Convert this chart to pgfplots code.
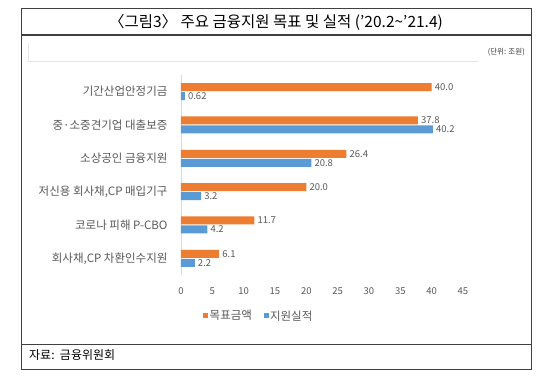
\documentclass[border=0pt]{standalone}
\usepackage{fontspec}
\setmainfont{Noto Sans CJK KR}
\usepackage{pgfplots}
\pgfplotsset{compat=1.18}
\definecolor{orangebar}{HTML}{ED7D31}
\definecolor{bluebar}{HTML}{5B9BD5}
\definecolor{txtgray}{HTML}{595959}
\definecolor{framegray}{HTML}{404040}
\begin{document}
\begin{tikzpicture}[x=1pt,y=1pt]
\useasboundingbox[fill=white] (0,0) rectangle (550,380);
% frame
\draw[framegray, line width=0.9pt] (21,372) rectangle (531,11);
\draw[framegray, line width=1.1pt] (21,345) -- (531,345);
\draw[framegray, line width=0.9pt] (21,36) -- (531,36);
\draw[gray!20, line width=0.6pt] (28,337) -- (28,319) -- (478,319);
% title
\node[font=\fontsize{15.5}{17}\selectfont, anchor=center] at (276,358) {〈그림3〉 주요 금융지원 목표 및 실적 ('20.2\textasciitilde'21.4)};
\node[font=\fontsize{7.5}{8}\selectfont, text=black!80, anchor=east, inner sep=0pt] at (525,328) {(단위: 조원)};
\node[font=\fontsize{12}{14}\selectfont, anchor=west, inner sep=0pt] at (29,25) {자료:\ \ 금융위원회};
\begin{axis}[
  at={(181pt,105pt)}, anchor=south west,
  scale only axis, width=282pt, height=200pt,
  xbar, bar width=8pt,
  xmin=0, xmax=45, ymin=-0.5, ymax=5.5,
  separate axis lines,
  axis x line*=bottom, axis y line*=left,
  x axis line style={draw=none},
  y axis line style={draw=gray!30, line width=0.6pt},
  major tick length=0pt,
  xtick={0,5,...,45},
  ytick={0,1,2,3,4,5},
  yticklabels={{회사채,CP 차환인수지원},{코로나 피해 P-CBO},{저신용 회사채,CP 매입기구},{소상공인 금융지원},{중·소중견기업 대출보증},{기간산업안정기금}},
  /pgf/number format/assume math mode=true,
  xticklabel style={font=\fontsize{9.5}{10}\selectfont, text=txtgray, anchor=base, yshift=-19.5pt},
  yticklabel style={font=\fontsize{11.5}{13}\selectfont, text=txtgray, xshift=-10pt},
  nodes near coords,
  nodes near coords align={horizontal},
  point meta=explicit symbolic,
  every node near coord/.append style={font=\fontsize{9.5}{10}\selectfont, text=txtgray, anchor=west, inner sep=3pt},
  legend style={at={(0.275,-0.205)}, anchor=center, draw=none, fill=none,
    legend columns=2, font=\fontsize{11.5}{13}\selectfont, text=txtgray,
    /tikz/every even column/.append style={column sep=10pt},
    nodes={inner sep=1.5pt}},
]
\addplot[fill=orangebar, draw=none, bar shift=4.5pt,
  legend image code/.code={\fill[orangebar] (0pt,-2.5pt) rectangle (5pt,2.5pt);}]
  table[x=v, y=c, meta=l] {
c v l
0 6.1 6.1
1 11.7 11.7
2 20.0 20.0
3 26.4 26.4
4 37.8 37.8
5 40.0 40.0
};
\addlegendentry{목표금액}
\addplot[fill=bluebar, draw=none, bar shift=-4.5pt,
  legend image code/.code={\fill[bluebar] (0pt,-2.5pt) rectangle (5pt,2.5pt);}]
  table[x=v, y=c, meta=l] {
c v l
0 2.2 2.2
1 4.2 4.2
2 3.2 3.2
3 20.8 20.8
4 40.2 40.2
5 0.62 0.62
};
\addlegendentry{지원실적}
\end{axis}
\end{tikzpicture}
\end{document}
